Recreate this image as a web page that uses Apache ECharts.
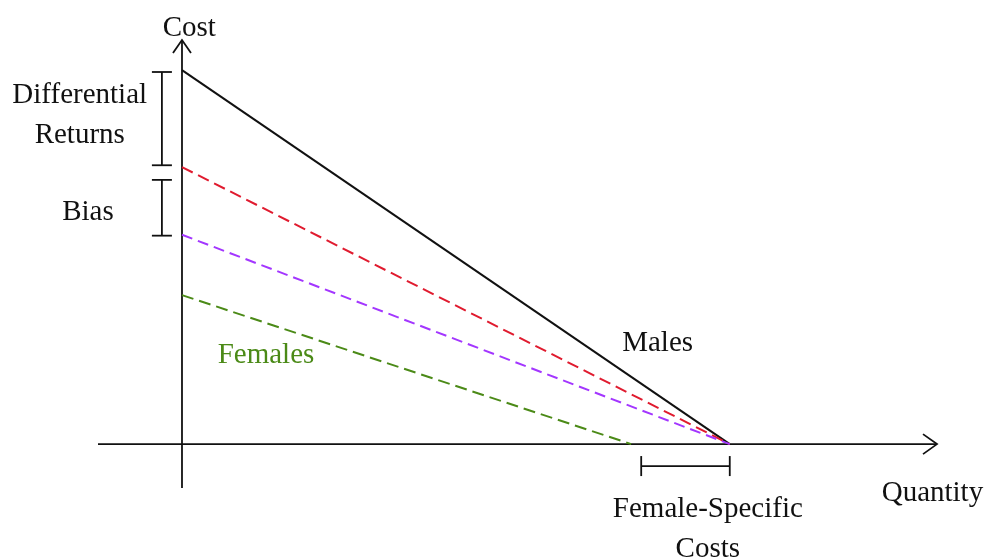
<!DOCTYPE html>
<html><head><meta charset="utf-8">
<script src="https://cdn.jsdelivr.net/npm/echarts@6/dist/echarts.min.js"></script>
<style>html,body{margin:0;padding:0;background:#fff}#c{width:989px;height:558px}</style>
</head><body><div id="c"></div>
<script>
// ---- data ----
const quantityRange = [-0.92, 8.27];
const costRange = [-0.48, 4.42];
const curveNames = ['Males', 'Differential returns', 'Bias', 'Females'];
const costIntercepts = [4.09, 3.03, 2.29, 1.63];
const quantityIntercepts = [6, 6, 6, 4.92];
const bracketLabels = ['Differential\nReturns', 'Bias', 'Female-Specific\nCosts'];
const bracketStart = [4.07, 2.89, 5.03];
const bracketEnd = [3.05, 2.28, 6.0];
const axisNames = ['Quantity', 'Cost'];
const curveLabels = ['Males', 'Females'];

// ---- styles / layout ----
const curveColors = ['#111111', '#e01b2f', '#a336ff', '#4b8a17'];
const curveTypes = ['solid', [12, 6], [11, 6], [12, 6]];
const FONT = '"Liberation Serif", "Times New Roman", serif';
const bracketOrient = ['v', 'v', 'h'];
const bracketOffset = [-0.22, -0.22, -0.24];

const labelSpecs = [
  {text: axisNames[1], at: [0.08, 4.55], color: '#111'},
  {text: axisNames[0], at: [8.22, -0.54], color: '#111'},
  {text: bracketLabels[0], at: [-1.12, 3.60], color: '#111'},
  {text: bracketLabels[1], at: [-1.03, 2.53], color: '#111'},
  {text: bracketLabels[2], at: [5.76, -0.93], color: '#111'},
  {text: curveLabels[0], at: [5.21, 1.10], color: '#111'},
  {text: curveLabels[1], at: [0.92, 0.97], color: curveColors[3]}
];

function renderFrame(params, api) {
  const ls = {stroke: '#111', lineWidth: 1.8, fill: null};
  const children = [];
  const xa = api.coord([quantityRange[0], 0]);
  const xb = api.coord([quantityRange[1], 0]);
  const ya = api.coord([0, costRange[0]]);
  const yb = api.coord([0, costRange[1]]);
  children.push({type: 'line', shape: {x1: xa[0], y1: xa[1], x2: xb[0], y2: xb[1]}, style: ls});
  children.push({type: 'line', shape: {x1: ya[0], y1: ya[1], x2: yb[0], y2: yb[1]}, style: ls});
  children.push({type: 'polyline', shape: {points: [[xb[0] - 14, xb[1] - 10], [xb[0], xb[1]], [xb[0] - 14, xb[1] + 10]]}, style: ls});
  children.push({type: 'polyline', shape: {points: [[yb[0] - 9, yb[1] + 13], [yb[0], yb[1]], [yb[0] + 9, yb[1] + 13]]}, style: ls});
  for (let i = 0; i < bracketStart.length; i++) {
    let p, q;
    if (bracketOrient[i] === 'v') {
      p = api.coord([bracketOffset[i], bracketStart[i]]);
      q = api.coord([bracketOffset[i], bracketEnd[i]]);
      children.push({type: 'line', shape: {x1: p[0], y1: p[1], x2: q[0], y2: q[1]}, style: ls});
      children.push({type: 'line', shape: {x1: p[0] - 10, y1: p[1], x2: p[0] + 10, y2: p[1]}, style: ls});
      children.push({type: 'line', shape: {x1: q[0] - 10, y1: q[1], x2: q[0] + 10, y2: q[1]}, style: ls});
    } else {
      p = api.coord([bracketStart[i], bracketOffset[i]]);
      q = api.coord([bracketEnd[i], bracketOffset[i]]);
      children.push({type: 'line', shape: {x1: p[0], y1: p[1], x2: q[0], y2: q[1]}, style: ls});
      children.push({type: 'line', shape: {x1: p[0], y1: p[1] - 10, x2: p[0], y2: p[1] + 10}, style: ls});
      children.push({type: 'line', shape: {x1: q[0], y1: q[1] - 10, x2: q[0], y2: q[1] + 10}, style: ls});
    }
  }
  labelSpecs.forEach(function (l) {
    const c = api.coord(l.at);
    children.push({type: 'text', x: c[0], y: c[1], style: {
      text: l.text, fill: l.color, fontFamily: FONT, fontSize: 29,
      align: 'center', verticalAlign: 'middle', lineHeight: 40
    }});
  });
  return {type: 'group', children: children};
}

const series = [{
  type: 'custom', name: 'frame', data: [0], renderItem: renderFrame, clip: false, silent: true, z: 1
}];
curveNames.forEach(function (n, i) {
  series.push({
    type: 'line', name: n, symbol: 'none', z: 3,
    data: [[0, costIntercepts[i]], [quantityIntercepts[i], 0]],
    lineStyle: {color: curveColors[i], width: 2, type: curveTypes[i]}
  });
});

const chart = echarts.init(document.getElementById('c'), null, {renderer: 'canvas'});
chart.setOption({
  animation: false,
  backgroundColor: '#fff',
  grid: {left: 98, right: 52, top: 40, bottom: 70},
  xAxis: {type: 'value', min: quantityRange[0], max: quantityRange[1], show: false},
  yAxis: {type: 'value', min: costRange[0], max: costRange[1], show: false},
  series: series
});
</script></body></html>
